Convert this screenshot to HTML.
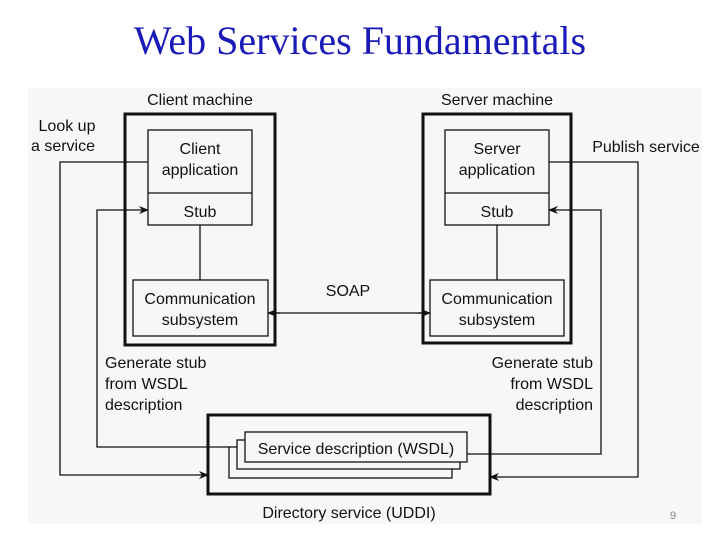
<!DOCTYPE html>
<html><head><style>
body{margin:0;background:#fff;width:720px;height:540px;overflow:hidden}
</style></head><body>
<svg width="720" height="540" xmlns="http://www.w3.org/2000/svg">
<defs><marker id="a" markerWidth="10" markerHeight="8" refX="9" refY="4" orient="auto" markerUnits="userSpaceOnUse"><path d="M0,0 L10,4 L0,8 L3,4Z" fill="#111"/></marker></defs>
<text x="360" y="54" font-family="Liberation Serif" font-size="40" fill="#1a1ab8" text-anchor="middle">Web Services Fundamentals</text>
<rect x="28" y="88" width="674" height="436" fill="#f7f7f7"/>
<g fill="none" stroke="#111">
<rect x="125" y="114" width="150" height="231" stroke-width="3"/>
<rect x="423" y="114" width="148" height="229" stroke-width="3"/>
<rect x="208" y="415" width="282" height="79" stroke-width="3"/>
<g stroke-width="1.3">
<rect x="148" y="130" width="104" height="95"/><line x1="148" y1="193" x2="252" y2="193"/>
<rect x="445" y="130" width="104" height="95"/><line x1="445" y1="193" x2="549" y2="193"/>
<rect x="133" y="280" width="135" height="56"/>
<rect x="430" y="280" width="134" height="56"/>
<line x1="200" y1="225" x2="200" y2="280"/><line x1="497" y1="225" x2="497" y2="280"/>
<line x1="270" y1="313" x2="428" y2="313"/>
<path d="M280,313 L268,313" marker-end="url(#a)"/><path d="M418,313 L430,313" marker-end="url(#a)"/>
<rect x="229" y="447" width="223" height="31" fill="#f7f7f7"/>
<rect x="237" y="440" width="223" height="29" fill="#f7f7f7"/>
<rect x="245" y="432" width="222" height="30" fill="#f7f7f7"/>
<path d="M148,162 H60 V475 H208" marker-end="url(#a)"/>
<path d="M230,447 H97 V210 H148" marker-end="url(#a)"/>
<path d="M549,162 H638 V477 H490" marker-end="url(#a)"/>
<path d="M467,454 H601 V210 H549" marker-end="url(#a)"/>
</g></g>
<g font-family="Liberation Sans" font-size="16" fill="#111" text-anchor="middle">
<text x="200" y="105">Client machine</text>
<text x="497" y="105">Server machine</text>
<text x="67" y="131">Look up</text>
<text x="63" y="151">a service</text>
<text x="646" y="152">Publish service</text>
<text x="200" y="154">Client</text><text x="200" y="175">application</text>
<text x="200" y="217">Stub</text>
<text x="497" y="154">Server</text><text x="497" y="175">application</text>
<text x="497" y="217">Stub</text>
<text x="200" y="304">Communication</text><text x="200" y="325">subsystem</text>
<text x="497" y="304">Communication</text><text x="497" y="325">subsystem</text>
<text x="348" y="296">SOAP</text>
<text x="356" y="454">Service description (WSDL)</text>
<text x="349" y="518">Directory service (UDDI)</text>
</g>
<g font-family="Liberation Sans" font-size="16" fill="#111">
<text x="105" y="368">Generate stub</text><text x="105" y="389">from WSDL</text><text x="105" y="410">description</text>
<g text-anchor="end"><text x="593" y="368">Generate stub</text><text x="593" y="389">from WSDL</text><text x="593" y="410">description</text></g>
</g>
<text x="673" y="519" font-family="Liberation Sans" font-size="11" fill="#888" text-anchor="middle">9</text>
</svg>
</body></html>
